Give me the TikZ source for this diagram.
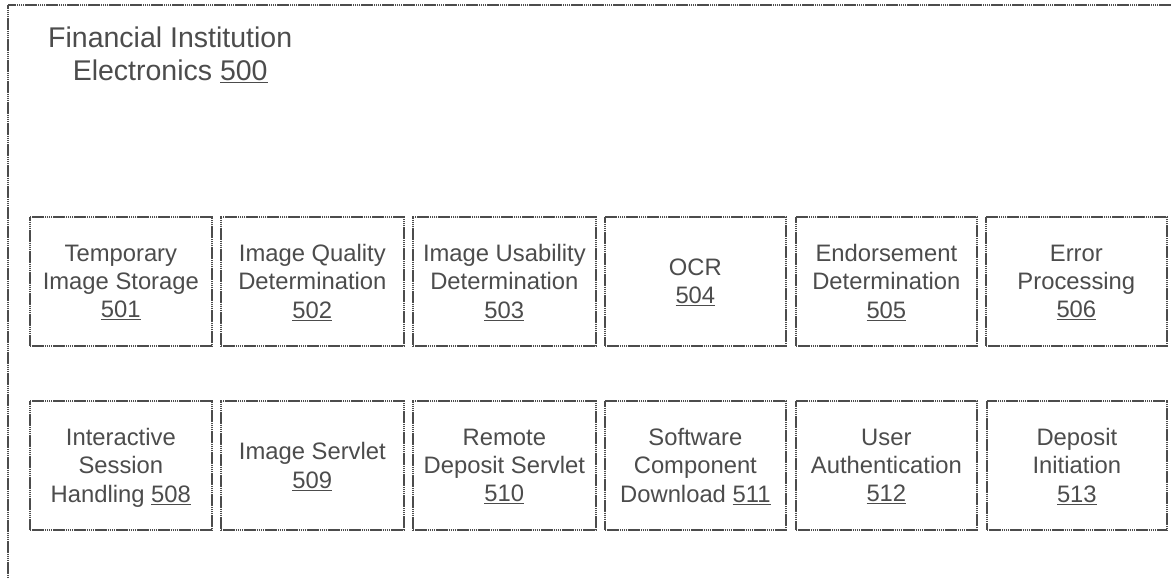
\documentclass[tikz,border=0pt]{standalone}
\usepackage{fontspec}
\setmainfont{Liberation Sans}
\definecolor{ink}{gray}{0.3}
\newcommand{\un}[1]{\underline{#1}}
\tikzset{
  x=1pt,y=-1pt,
  modbox/.style={draw=ink,line width=1.7pt,dash pattern=on 1.6pt off 0.5pt,rectangle,anchor=north west,minimum height=129pt,align=center,text=ink,inner sep=0pt,text depth=0pt,font=\fontsize{23.8}{28.3}\selectfont},
  frameline/.style={draw=ink,line width=1.7pt,dash pattern=on 1.6pt off 0.5pt},
  heading/.style={text=ink,align=center,font=\fontsize{28.5}{32.5}\selectfont,inner sep=0pt}
}
\begin{document}
\begin{tikzpicture}
\useasboundingbox (0,0) rectangle (1171,578);
\fill[white] (0,0) rectangle (1171,578);
\coordinate (ftop) at (1171,5);
\coordinate (fcorner) at (8,5);
\coordinate (fbot) at (8,578);
\draw[frameline] (ftop) -- (fcorner) -- (fbot);
\node[heading,anchor=north west] (title) at (48,27) {Financial Institution\\Electronics \un{500}};
\node[modbox,minimum width=182pt] (a) at (29,216) {Temporary\\Image Storage\\\un{501}};
\node[modbox,minimum width=183pt] (b) at (220,216) {Image Quality\\Determination\\\un{502}};
\node[modbox,minimum width=183pt] (c) at (412,216) {Image Usability\\Determination\\\un{503}};
\node[modbox,minimum width=181pt] (d) at (604,216) {OCR\\\un{504}};
\node[modbox,minimum width=181pt] (e) at (795,216) {Endorsement\\Determination\\\un{505}};
\node[modbox,minimum width=181pt] (f) at (985,216) {Error\\Processing\\\un{506}};
\node[modbox,minimum width=182pt] (g) at (29,400) {Interactive\\Session\\Handling \un{508}};
\node[modbox,minimum width=183pt] (h) at (220,400) {Image Servlet\\\un{509}};
\node[modbox,minimum width=183pt] (i) at (412,400) {Remote\\Deposit Servlet\\\un{510}};
\node[modbox,minimum width=181pt] (j) at (604,400) {Software\\Component\\Download \un{511}};
\node[modbox,minimum width=181pt] (k) at (795,400) {User\\Authentication\\\un{512}};
\node[modbox,minimum width=180pt] (l) at (986,400) {Deposit\\Initiation\\\un{513}};
\end{tikzpicture}
\end{document}
